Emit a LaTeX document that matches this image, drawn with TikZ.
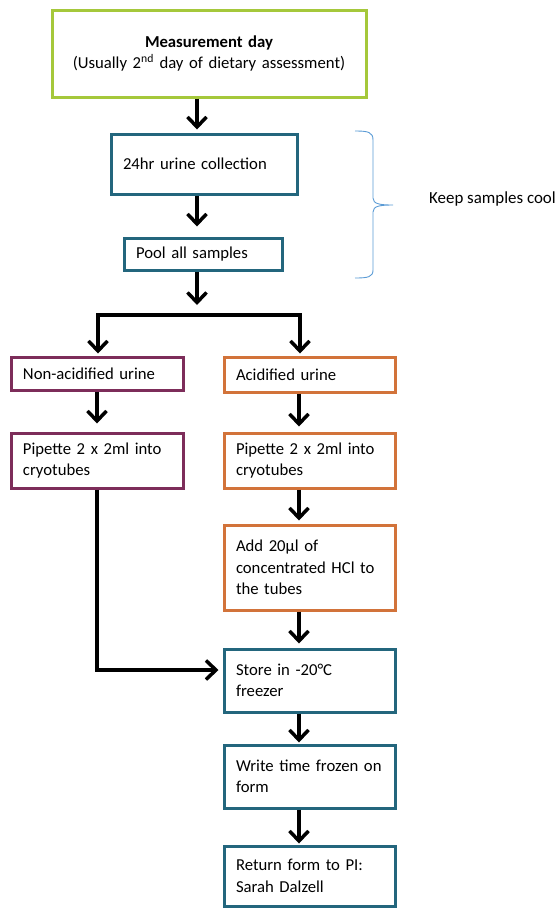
\documentclass[tikz,border=0pt]{standalone}
\usepackage{fontspec}
\setmainfont{Carlito}
\usetikzlibrary{arrows.meta}
\definecolor{cgreen}{HTML}{A5C83B}
\definecolor{cteal}{HTML}{23667D}
\definecolor{cpurple}{HTML}{7D2D5A}
\definecolor{corange}{HTML}{D2733A}
\definecolor{cblue}{HTML}{5B9BD5}
\tikzset{
  box/.style={draw, line width=3pt, fill=white, rectangle, inner xsep=12pt, inner ysep=2pt,
    align=left, font=\fontsize{16.7}{21.5}\selectfont},
  arr/.style={line width=3.5pt, -{Straight Barb[length=10pt,width=19pt]}},
  conn/.style={line width=3.5pt},
}
\begin{document}
\begin{tikzpicture}[x=1pt,y=-1pt]
\useasboundingbox (0,0) rectangle (559,908);
% boxes
\node[box, draw=cgreen, minimum width=314pt, minimum height=87pt, text width=290pt, align=center] (meas) at (209,53.5)
  {\textbf{Measurement day}\\(Usually 2\textsuperscript{nd} day of dietary assessment)};
\node[box, draw=cteal, minimum height=60pt, text width=162pt] (coll) at (204,164) {24hr urine collection};
\node[box, draw=cteal, minimum height=32pt, text width=134pt] (pool) at (203,254) {Pool all samples};
\node[box, draw=cpurple, minimum height=33pt, text width=148pt] (nona) at (97,373.5) {Non-acidified urine};
\node[box, draw=corange, minimum height=35pt, text width=147pt] (acid) at (309.5,374.5) {Acidified urine};
\node[box, draw=cpurple, minimum height=55pt, text width=148pt] (pipl) at (97,460.5) {Pipette 2 x 2ml into\\cryotubes};
\node[box, draw=corange, minimum height=55pt, text width=147pt] (pipr) at (309.5,460.5) {Pipette 2 x 2ml into\\cryotubes};
\node[box, draw=corange, minimum height=85pt, text width=147pt] (add) at (309.5,567.5) {Add 20µl of\\concentrated HCl to\\the tubes};
\node[box, draw=cteal, minimum height=63pt, text width=147pt] (store) at (309.5,680.5) {Store in -20°C\\freezer};
\node[box, draw=cteal, minimum height=63pt, text width=147pt] (write) at (309.5,776.5) {Write time frozen on\\form};
\node[box, draw=cteal, minimum height=60pt, text width=147pt] (ret) at (309.5,876) {Return form to PI:\\Sarah Dalzell};
% column coordinates
\coordinate (ca) at (197,0);
\coordinate (cl) at (97,0);
\coordinate (cr) at (299,0);
\coordinate (bl) at (98,315);
\coordinate (br) at (300,315);
\coordinate (bend) at (97,670);
% arrows
\draw[arr, shorten >=3pt] (meas.south -| ca) -- (coll.north -| ca);
\draw[arr, shorten >=10pt] (coll.south -| ca) -- (pool.north -| ca);
\draw[arr, shorten >=10pt] (pool.south -| ca) -- (bl -| ca);
\draw[conn, line cap=rect] (bl) -- (br);
\draw[arr, shorten >=2pt] (bl) -- (nona.north -| bl);
\draw[arr, shorten >=2pt] (br) -- (acid.north -| br);
\draw[arr, shorten >=8pt] (nona.south -| cl) -- (pipl.north -| cl);
\draw[arr, shorten >=5pt] (acid.south -| cr) -- (pipr.north -| cr);
\draw[arr, shorten >=3pt] (pipr.south -| cr) -- (add.north -| cr);
\draw[arr, shorten >=4pt] (add.south -| cr) -- (store.north -| cr);
\draw[arr, shorten >=4pt] (pipl.south -| cl) -- (bend) -- (bend -| store.west);
\draw[arr, shorten >=1pt] (store.south -| cr) -- (write.north -| cr);
\draw[arr, shorten >=1pt] (write.south -| cr) -- (ret.north -| cr);
% brace
\draw[cblue, line width=0.9pt] (355,131) .. controls (368,131) and (373,132) .. (373,140)
  -- (373,198) .. controls (373,204) and (380,205) .. (393,205)
  .. controls (380,205) and (373,206) .. (373,212)
  -- (373,270) .. controls (373,277) and (368,278) .. (355,278);
\node[anchor=west, font=\fontsize{16.9}{20}\selectfont, inner sep=0pt] (cool) at (429,199) {Keep samples cool};
\end{tikzpicture}
\end{document}
